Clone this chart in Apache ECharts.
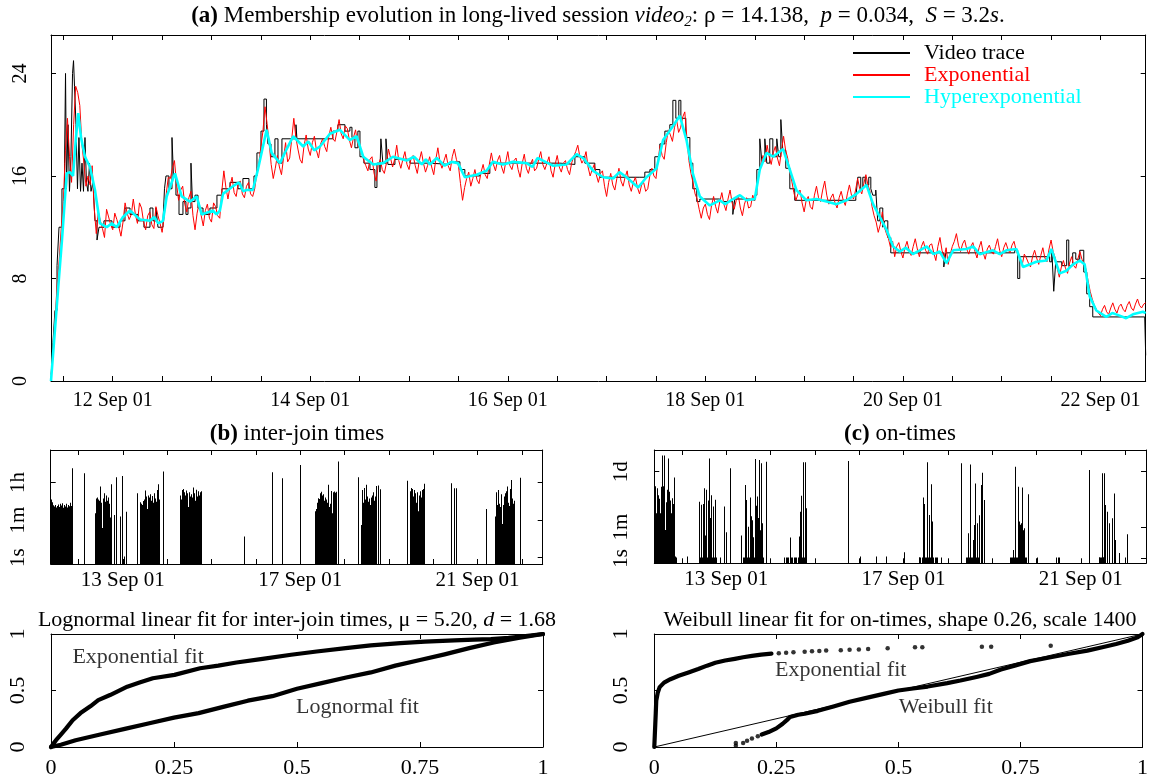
<!DOCTYPE html>
<html><head><meta charset="utf-8">
<script src="https://cdn.jsdelivr.net/npm/echarts@6/dist/echarts.min.js"></script>
<style>html,body{margin:0;padding:0;background:#fff;}#c{width:1151px;height:781px;}</style>
</head><body><div id="c"></div>
<script>
const FONT = 'Liberation Serif';
// ---------------- (a) membership evolution ----------------
const mainTickDays = [11.5,12,12.5,13,13.5,14,14.5,15,15.5,16,16.5,17,17.5,18,18.5,19,19.5,20,20.5,21,21.5,22];
const mainLabelDays = [12,14,16,18,20,22];
const mainYTicks = [0,8,16,24];
const videoTrace = [[11.375,0],[11.395,3],[11.415,5.5],[11.436,9],[11.456,12],[11.486,15],[11.512,17],[11.522,24],[11.532,15],[11.547,20],[11.562,14.8],[11.577,17.5],[11.593,24],[11.603,25],[11.613,23],[11.628,20],[11.643,15],[11.658,19],[11.674,14.8],[11.689,17],[11.704,14.8],[11.719,19],[11.734,15.5],[11.749,14.8],[11.765,17],[11.780,14.8],[11.800,15.5],[11.820,12.5],[11.841,11],[11.861,12],[11.911,12.5],[11.992,12],[12.073,12.5],[12.124,13.5],[12.175,13],[12.256,12.5],[12.316,12],[12.377,13.5],[12.407,12.5],[12.438,13.5],[12.458,12],[12.509,12.5],[12.524,15],[12.539,16],[12.569,15],[12.600,19],[12.615,16],[12.640,14.5],[12.671,13],[12.711,14],[12.741,13],[12.762,13.5],[12.792,17],[12.807,14],[12.833,14.5],[12.863,13.5],[12.914,13],[12.984,13.5],[13.055,14.5],[13.106,15],[13.187,15.5],[13.268,15],[13.318,15.8],[13.379,15],[13.430,16],[13.460,17.8],[13.501,19.5],[13.531,22],[13.556,20],[13.571,18.5],[13.602,17.5],[13.642,18.9],[13.673,17],[13.713,18.9],[13.855,20],[13.865,18.9],[14.229,19.5],[14.280,20],[14.351,19.5],[14.401,19.8],[14.422,19],[14.452,18.2],[14.482,19.5],[14.503,17.5],[14.543,17],[14.604,16.5],[14.654,15.1],[14.675,17],[14.705,16.3],[14.715,18.9],[14.735,17],[14.766,18.9],[14.786,16.9],[14.857,17.3],[15.009,17],[15.211,16.9],[15.414,17.1],[15.515,16.5],[15.565,16],[15.717,16.2],[15.818,17],[16.122,17],[16.527,16.9],[16.679,17.5],[16.780,17],[16.881,16.5],[16.932,15.9],[17.337,15.9],[17.387,16.3],[17.438,16.5],[17.488,17.5],[17.539,18.5],[17.590,19.5],[17.640,20],[17.671,21.9],[17.701,20.5],[17.731,21.9],[17.752,20.5],[17.802,19],[17.843,17],[17.873,15],[17.913,14],[17.944,14.2],[18.146,14],[18.278,13],[18.298,14.2],[18.450,14.1],[18.500,14.5],[18.521,16.5],[18.551,18.9],[18.571,17.2],[18.602,18.9],[18.622,17],[18.652,18.9],[18.683,17.5],[18.723,18.9],[18.743,17.5],[18.764,20.4],[18.784,18],[18.814,16.6],[18.855,15],[18.905,14.1],[19.523,14.3],[19.543,15.9],[19.573,15],[19.594,15.9],[19.624,15.3],[19.654,15.9],[19.675,15],[19.695,14.5],[19.725,14.9],[19.745,12.5],[19.766,13.5],[19.796,12],[19.816,12.5],[19.847,11.2],[19.877,10],[20.414,8.9],[20.434,10],[21.132,10.2],[21.162,8],[21.183,9.7],[21.486,9.3],[21.507,10.3],[21.527,7.0],[21.547,9.3],[21.608,9],[21.658,11],[21.679,9],[21.719,10],[21.750,9.5],[21.790,10.2],[21.831,8.5],[21.861,6.8],[21.891,5.8],[21.922,5],[22.448,5],[22.458,2]];
const expStartDay = 11.375;      // samples every 30 minutes
const expSamplesPerDay = 48;
const expValues = [
0.5,2.5,5,7.5,9.5,12,14,18,20.5,17.5,15.5,20,23,22.5,21.5,18.5,17,15.2,16,15.3,
16.8,13.5,11.5,13.2,12.5,11.9,11.2,13.4,12.8,12.2,11.8,13.1,12.6,12.0,11.3,12.4,13.9,13.1,12.6,13.0,
14.2,13.0,12.3,13.9,13.5,12.4,11.8,12.9,13.2,12.2,11.9,13.6,12.9,12.3,11.6,12.8,14.6,15.9,15.8,16.6,
17.2,15.4,14.1,14.9,15.2,13.8,13.2,14.3,14.8,12.9,11.8,13.1,13.9,12.9,12.1,13.3,13.8,12.7,12.4,13.9,
13.6,12.9,12.7,14.8,16.4,15.1,14.2,15.2,15.9,14.7,14.4,15.5,15.6,14.6,14.3,15.2,15.5,14.6,14.4,15.0,
16.2,17.0,18.3,19.5,21.4,20.1,18.6,16.9,15.8,16.6,17.6,16.7,16.1,17.4,18.6,17.1,17.4,18.9,20.5,19.0,
18.1,17.3,17,18.4,19.2,18.1,17.6,18.6,19.1,18.0,17.4,18.5,18.9,18.3,17.9,19.1,19.8,18.9,18.7,19.5,
20.4,19.3,18.9,19.9,19.7,18.8,18.2,19.0,19.6,18.5,18.1,17.8,17.2,16.8,16.4,17.3,17.5,16.2,15.6,16.8,
17.3,16.5,16.2,17.0,18.1,17.4,16.7,17.3,18.4,17.2,16.6,17.3,17.9,16.9,16.5,17.4,17.6,16.8,16.2,17.2,
17.9,17.0,16.3,16.8,17.5,16.7,16.1,17.3,18.2,17.1,16.6,17.2,17.7,16.8,16.4,17.5,18.1,17.3,16.8,15.4,
14.1,15.1,15.8,16.3,15.2,15.8,16.5,15.7,15.4,16.3,16.9,16.1,15.8,16.9,17.8,16.9,16.4,17.2,17.6,16.7,
16.2,17.1,17.9,16.8,16.5,17.2,17.4,16.5,15.9,17.0,17.7,16.6,16.2,16.9,17.3,16.4,16.6,17.3,17.9,16.9,
16.5,17.0,17.5,16.4,15.9,16.9,17.6,16.7,16.3,17.0,17.2,16.5,16.1,17.0,17.5,17.9,18.4,17.5,17,17.3,
17.9,16.7,16,16.5,16.9,16.1,15.5,16.2,16.4,15.2,14.4,15.5,16.2,15.3,14.9,15.8,16.6,15.6,15.2,15.9,
16.4,15.3,14.8,15.5,15.9,15.1,14.6,15.3,15.5,14.8,15,16.0,16.6,16.0,15.8,17.2,18.4,17.6,17.3,18.6,
19.6,19.2,18.7,19.8,20.4,19.4,19.8,20.6,21,19.0,17.2,16.2,15.5,14.6,14.2,13.4,12.7,13.5,13.8,13.0,
12.6,13.7,14.4,13.6,13.1,14.0,14.7,13.8,13.3,14.2,14.9,13.9,13.4,14.1,14.5,13.5,12.9,13.8,14.3,13.5,
13.6,14.5,14.1,15.0,16.1,16.9,17.6,17.1,18.4,17.5,16.9,17.8,18.3,17.4,16.8,18.0,19.1,18.0,17.4,16.3,
15.6,14.7,14.1,14.6,14.9,13.9,13.2,14.1,14.4,13.6,13.4,14.5,15.2,14.3,14,14.9,15.6,14.5,13.8,14.3,
14.6,13.9,13.5,14.3,14.8,14.1,13.7,14.6,15.3,14.5,14.2,14.9,15.8,15.0,14.6,15.4,16.1,15.3,14.8,13.6,
12.9,12.4,11.6,12.2,13.2,12.0,11.5,11.1,10.4,10.9,9.7,10.5,10.8,10.1,9.6,10.4,10.9,10.2,9.8,10.5,
11.1,10.3,9.7,10.5,10.9,10.2,9.9,10.6,10.7,10.0,9.4,10.5,11.2,10.2,9.6,10.4,9.1,9.9,10.5,10.9,
11.5,10.6,10.1,10.7,11,10.3,9.9,10.5,10.8,10.1,9.6,10.4,10.9,10.0,9.5,10.3,10.6,10.1,9.9,10.5,
11.1,10.2,9.7,10.4,10.8,10.3,10,10.6,10.9,10.2,9.8,9.5,9.1,9.9,9.6,9.2,8.9,9.7,10.2,9.6,
9.1,9.8,10.4,9.6,9.3,10.3,11,10.1,9.6,8.8,8.1,8.9,9.4,8.8,8.4,9.2,9.7,9.0,8.8,9.5,
10.1,9.5,9.2,8.7,7.8,7.0,6.4,5.9,5.6,5.3,5.1,5.6,5.9,5.4,5.2,5.7,6.1,5.6,5.3,5.8,
6,5.6,5.4,5.9,6.2,5.7,5.5,6.0,6.4,5.9,5.7,6.0,6.1];
const hyperExp = [[11.375,0],[11.445,7],[11.486,11],[11.534,16.2],[11.567,16.3],[11.598,16.0],[11.628,19],[11.651,20.9],[11.679,19],[11.719,17.5],[11.770,16.7],[11.820,14.9],[11.871,12.3],[11.939,12],[11.99,12.3],[12.040,12],[12.104,12.8],[12.175,13.3],[12.276,12.6],[12.377,12.5],[12.42,12.8],[12.46,12.3],[12.509,12.5],[12.546,14.4],[12.630,16.2],[12.698,14.4],[12.782,14],[12.850,14.4],[12.900,13],[13.015,13.3],[13.05,13.0],[13.085,13.3],[13.116,14.6],[13.217,15.2],[13.28,15.5],[13.32,14.8],[13.356,14.9],[13.419,14.9],[13.470,16.5],[13.558,19.6],[13.609,17.8],[13.693,17],[13.761,18.1],[13.827,19.1],[13.929,18.3],[13.98,18.7],[14.04,18.0],[14.098,18.3],[14.199,19.3],[14.300,19.6],[14.401,18.8],[14.469,19.1],[14.536,17.5],[14.637,16.9],[14.738,17],[14.837,17.5],[14.975,17.2],[15.05,17.5],[15.13,16.9],[15.17,17.3],[15.211,16.9],[15.28,17.4],[15.36,16.8],[15.431,17.1],[15.495,17],[15.565,15.9],[15.684,16.1],[15.785,16.4],[15.849,17.1],[15.950,16.9],[16.051,17.1],[16.190,17],[16.25,16.7],[16.30,17.4],[16.355,17.2],[16.456,16.8],[16.595,16.9],[16.696,17.7],[16.763,17.4],[16.864,16.4],[16.965,15.9],[17.066,15.8],[17.13,16.3],[17.202,15.9],[17.319,15.1],[17.404,15.9],[17.506,16.6],[17.572,18.8],[17.673,19.9],[17.741,20.7],[17.809,18.8],[17.876,16.1],[17.944,14.4],[18.045,13.7],[18.146,14.1],[18.2,13.8],[18.281,14.2],[18.35,14.5],[18.416,14.1],[18.500,14.2],[18.551,16.5],[18.619,17.8],[18.686,17.5],[18.787,18.1],[18.855,16.5],[18.922,14.9],[19.024,14.1],[19.125,14.2],[19.226,14],[19.327,13.8],[19.429,14.1],[19.530,14.6],[19.631,15.3],[19.698,13.8],[19.766,12.8],[19.834,11.8],[19.901,10.5],[19.968,10.1],[20.03,10.4],[20.1,9.9],[20.171,10.2],[20.24,10.5],[20.31,9.9],[20.373,10.1],[20.441,9.2],[20.508,10.2],[20.643,10.3],[20.71,10.5],[20.778,9.9],[20.912,10.2],[20.98,9.9],[21.048,10.2],[21.149,10.3],[21.216,8.9],[21.352,9.3],[21.453,9.4],[21.503,10.3],[21.587,8.4],[21.655,8.6],[21.722,9.1],[21.790,9.4],[21.840,9.1],[21.891,6.6],[21.958,5.5],[22.059,5.0],[22.12,5.3],[22.194,5.1],[22.26,4.9],[22.329,5.2],[22.430,5.4],[22.458,5.3]];

// ---------------- (b) inter-join times, (c) on-times  (log10 seconds) ----------------
const subTickDays = [12,13,14,15,16,17,18,19,20,21,22];
const subLabelDays = [13,17,21];
const ijTickLog = [0,1.778,3.556];
const ijTickText = ['1s','1m','1h'];
const onTickLog = [0,1.778,4.937];
const onTickText = ['1s','1m','1d'];
const interJoin = [
[11.375,2.83],[11.398,2.75],[11.420,2.62],[11.443,2.48],[11.465,2.42],[11.488,2.5],[11.511,2.38],[11.533,2.45],[11.556,2.52],[11.578,2.4],[11.601,2.55],[11.624,2.47],[11.646,2.58],[11.669,2.36],[11.691,2.5],[11.714,2.42],[11.737,2.55],[11.759,2.38],[11.782,2.49],[11.804,2.44],[11.827,2.6],[11.849,2.45],
[11.863,4.24],[12.127,4.0],
[12.375,2.1],[12.398,2.8],[12.420,2.85],[12.443,2.75],[12.465,2.7],[12.488,3.37],[12.511,2.6],[12.533,1.4],[12.556,2.8],[12.578,3.05],[12.601,2.65],[12.624,2.95],[12.646,2.7],[12.669,2.85],[12.691,2.55],[12.714,1.9],[12.737,3.48],
[12.811,2.02],[12.864,3.81],[12.954,1.95],[12.999,3.87],[13.037,0.05],[13.082,2.18],[13.331,3.05],
[13.391,2.62],[13.414,2.55],[13.436,2.5],[13.459,2.68],[13.481,2.75],[13.504,3.18],[13.527,2.9],[13.549,2.3],[13.572,2.95],[13.594,2.85],[13.617,3.0],[13.640,2.7],[13.662,2.92],[13.685,2.6],[13.707,3.05],[13.730,2.8],[13.753,2.65],[13.775,3.2],[13.798,3.48],[13.820,2.75],
[13.917,4.08],
[14.294,2.95],[14.317,2.75],[14.339,3.2],[14.362,3.25],[14.384,3.1],[14.407,2.95],[14.430,3.18],[14.452,3.05],[14.475,2.4],[14.497,3.1],[14.520,2.9],[14.543,3.0],[14.565,2.85],[14.588,3.32],[14.610,3.05],[14.633,2.7],[14.656,3.22],[14.678,2.9],[14.701,3.15],[14.723,2.95],[14.746,3.1],[14.769,3.15],
[15.746,1.0],[16.386,4.05],[16.611,3.76],[17.018,4.39],
[17.341,2.2],[17.364,2.3],[17.386,2.6],[17.409,2.82],[17.431,2.78],[17.454,3.05],[17.477,3.12],[17.499,2.95],[17.522,3.0],[17.544,2.7],[17.567,2.85],[17.590,2.75],[17.612,2.6],[17.635,3.45],[17.657,2.4],[17.680,2.55],[17.703,3.16],[17.725,2.1],[17.748,3.1],[17.770,3.13],[17.793,3.08],[17.816,3.12],
[17.876,4.55],[18.319,3.81],
[18.394,1.55],[18.417,3.2],[18.439,2.6],[18.462,3.3],[18.484,2.75],[18.507,3.45],[18.530,2.9],[18.552,2.65],[18.575,2.8],[18.597,2.5],[18.620,2.85],[18.643,2.95],[18.665,3.1],[18.688,2.7],[18.710,2.9],[18.733,3.4],[18.756,2.2],[18.778,3.42],[18.801,3.24],
[19.41,3.64],
[19.485,3.15],[19.508,3.3],[19.530,3.25],[19.553,2.9],[19.575,3.2],[19.598,3.05],[19.621,2.6],[19.643,3.1],[19.666,2.2],[19.688,2.95],[19.711,3.15],[19.734,2.85],[19.756,3.2],[19.779,3.25],[19.801,3.5],
[20.411,3.52],[20.486,3.29],[20.524,3.29],[21.194,2.31],
[21.404,1.95],[21.427,3.1],[21.449,2.5],[21.472,3.2],[21.494,2.55],[21.517,2.4],[21.540,3.0],[21.562,1.6],[21.585,2.5],[21.607,2.9],[21.630,3.05],[21.653,3.15],[21.675,3.37],[21.698,2.6],[21.720,2.45],[21.743,3.25],[21.766,3.68],[21.788,2.8],[21.811,2.55],[21.833,2.7],
[21.968,3.79]];
const onTimes = [
[11.384,4.33],[11.407,4.1],[11.429,2.57],[11.452,3.99],[11.474,3.6],[11.497,3.4],[11.520,2.57],[11.542,4.08],[11.565,5.85],[11.587,4.1],[11.610,5.85],[11.633,1.62],[11.655,3.2],[11.678,3.9],[11.700,5.69],[11.723,3.8],[11.746,3.3],[11.768,2.57],[11.791,3.42],[11.813,3.1],[11.836,4.6],[11.859,0.1],[11.881,0.05],
[12.135,0.1],
[12.398,3.23],[12.413,0.05],[12.436,0.05],[12.451,3.05],[12.466,0.05],[12.488,3.1],[12.511,3.99],[12.526,0.05],[12.541,1.3],[12.563,3.9],[12.586,0.05],[12.601,3.3],[12.624,5.69],[12.639,0.05],[12.654,2.3],[12.676,3.6],[12.691,0.05],[12.706,1.5],[12.721,2.95],[12.736,0.05],[12.751,0.05],[12.766,3.34],[12.781,0.05],
[12.864,0.05],[12.962,2.95],[13.007,1.49],[13.104,5.13],
[13.352,1.3],[13.39,0.05],[13.41,0.05],[13.427,4.18],[13.44,0.05],[13.465,3.33],[13.48,0.05],[13.503,1.8],[13.52,0.05],[13.540,3.46],[13.563,2.4],[13.58,0.05],[13.593,2.17],[13.61,0.05],[13.623,1.2],[13.64,0.05],[13.653,5.66],[13.67,0.05],[13.683,3.0],[13.69,0.05],[13.706,3.52],[13.728,2.3],[13.74,0.05],[13.751,5.6],[13.77,0.05],[13.781,1.6],[13.79,0.05],[13.803,5.41],[13.815,0.05],[13.826,2.0],[13.84,0.05],[13.916,5.5],
[14.32,0.05],[14.35,0.05],[14.38,0.05],[14.41,0.05],[14.44,0.05],[14.457,1.19],[14.47,0.05],[14.50,0.05],[14.53,0.05],[14.56,0.05],[14.59,0.05],[14.62,0.05],[14.645,1.25],[14.66,0.05],[14.682,2.66],[14.705,3.57],[14.72,0.05],[14.742,5.47],[14.76,0.05],[14.780,5.47],[14.79,0.05],[14.802,2.85],[14.815,0.05],
[15.757,5.54],[16.02,0.1],[16.395,0.1],[16.621,0.1],[17.019,0.35],
[17.35,0.05],[17.37,0.05],[17.39,0.05],[17.42,0.05],[17.447,3.46],[17.47,3.1],[17.49,0.05],[17.51,0.05],[17.545,5.47],[17.56,0.05],[17.582,2.47],[17.60,0.05],[17.62,4.22],[17.635,0.05],[17.65,2.1],[17.665,0.05],[17.725,0.05],[17.745,0.05],[17.77,0.05],[17.86,0.05],
[18.311,5.41],[18.42,0.05],[18.44,0.05],[18.461,1.43],[18.48,0.05],[18.50,0.05],[18.514,5.35],[18.535,0.05],[18.555,0.05],[18.574,1.05],[18.59,0.05],[18.6,1.9],[18.627,4.27],[18.645,0.05],[18.664,2.0],[18.68,0.05],[18.702,2.45],[18.72,0.05],[18.747,4.18],[18.777,4.88],[18.822,3.33],
[19.42,0.05],[19.44,0.05],[19.46,0.05],[19.476,0.48],[19.50,0.05],[19.528,5.22],[19.55,0.05],[19.57,0.05],[19.588,4.08],[19.60,0.05],[19.618,2.1],[19.63,0.05],[19.641,1.91],[19.664,2.0],[19.686,4.03],[19.70,0.05],[19.716,1.6],[19.739,1.72],[19.75,0.05],[19.77,0.05],[19.814,3.65],
[20.024,0.05],[20.452,0.05],[20.505,0.05],[20.527,0.05],
[21.204,5.03],[21.41,0.05],[21.43,0.05],[21.45,0.05],[21.47,0.05],[21.482,4.84],[21.50,0.05],[21.52,0.05],[21.542,4.84],[21.557,3.04],[21.602,2.66],[21.639,2.0],[21.714,2.28],[21.752,3.7],[21.79,1.05],[21.88,0.3],[22.008,0.05],[22.053,1.37]];

// ---------------- bottom linear-fit plots ----------------
const fitTicksX = [0,0.25,0.5,0.75,1];
const fitTicksY = [0,0.5,1];
const lnExpFit = [[0,0],[0.005,0.03],[0.012,0.07],[0.02,0.11],[0.03,0.16],[0.044,0.237],[0.06,0.3],[0.08,0.36],[0.096,0.415],[0.12,0.46],[0.155,0.534],[0.18,0.57],[0.207,0.608],[0.251,0.638],[0.303,0.697],[0.34,0.72],[0.377,0.748],[0.43,0.78],[0.488,0.816],[0.54,0.845],[0.599,0.875],[0.65,0.9],[0.71,0.92],[0.76,0.933],[0.82,0.944],[0.86,0.95],[0.894,0.955],[0.93,0.965],[0.96,0.98],[1,1]];
const lnLognormalFit = [[0,0],[0.02,0.02],[0.05,0.06],[0.1,0.11],[0.15,0.16],[0.2,0.21],[0.25,0.26],[0.3,0.3],[0.35,0.355],[0.4,0.41],[0.45,0.45],[0.5,0.515],[0.55,0.565],[0.6,0.615],[0.65,0.66],[0.7,0.72],[0.75,0.77],[0.8,0.82],[0.85,0.875],[0.9,0.925],[0.95,0.965],[1,1]];
const wbExpFit = [[0,0],[0.001,0.1],[0.002,0.2],[0.003,0.3],[0.004,0.41],[0.007,0.48],[0.011,0.53],[0.02,0.57],[0.033,0.6],[0.05,0.63],[0.07,0.66],[0.09,0.69],[0.108,0.72],[0.125,0.745],[0.145,0.765],[0.165,0.78],[0.182,0.794],[0.2,0.806],[0.219,0.818],[0.24,0.826]];
const wbExpDots = [[0.255,0.829],[0.27,0.834],[0.285,0.838],[0.308,0.844],[0.323,0.847],[0.338,0.85],[0.352,0.853],[0.382,0.857],[0.4,0.86],[0.419,0.863],[0.438,0.868],[0.478,0.874],[0.534,0.882],[0.549,0.882],[0.671,0.888],[0.69,0.888],[0.812,0.897]];
const wbWeibullDots = [[0.167,0.01],[0.167,0.035],[0.182,0.035],[0.19,0.055],[0.2,0.075],[0.212,0.095]];
const wbWeibullFit = [[0.22,0.11],[0.234,0.132],[0.25,0.165],[0.263,0.206],[0.272,0.24],[0.278,0.265],[0.295,0.285],[0.308,0.294],[0.335,0.32],[0.367,0.359],[0.4,0.4],[0.441,0.441],[0.47,0.47],[0.5,0.5],[0.53,0.518],[0.56,0.535],[0.6,0.565],[0.627,0.588],[0.66,0.62],[0.686,0.647],[0.71,0.685],[0.738,0.72],[0.77,0.76],[0.812,0.794],[0.85,0.825],[0.887,0.853],[0.92,0.885],[0.946,0.912],[0.97,0.94],[0.99,0.97],[1,1]];
const wbDiagonal = [[0,0],[1,1]];

// ---------------- chart ----------------
const chart = echarts.init(document.getElementById('c'));
const xAxis = [], yAxis = [];
const lineStyleBlack = {color:'#000', width:1};
function makeAxes(gi, o) {
  const common = (pos, ticks, showLab, labs, fmt, margin, rot, min, max) => ({
    gridIndex: gi, type: 'value', position: pos, min: min, max: max,
    axisLine: {show: true, onZero: false, lineStyle: lineStyleBlack},
    axisTick: {show: true, inside: true, length: 5, customValues: ticks, lineStyle: lineStyleBlack},
    axisLabel: {show: showLab, customValues: labs, formatter: fmt, margin: margin, rotate: rot,
      color: '#000', fontFamily: FONT, fontSize: o.fs, hideOverlap: false},
    splitLine: {show: false}
  });
  xAxis.push(common('bottom', o.xt, true, o.xl, o.xf, o.xm, 0, o.xmin, o.xmax));
  xAxis.push(common('top', o.xt, false, o.xl, o.xf, o.xm, 0, o.xmin, o.xmax));
  yAxis.push(common('left', o.yt, true, o.yl, o.yf, o.ym, 90, o.ymin, o.ymax));
  yAxis.push(common('right', o.yt, false, o.yl, o.yf, o.ym, 90, o.ymin, o.ymax));
}
const dayFmt = v => Math.round(v) + ' Sep 01';
const lookup = (ticks, texts) => v => { for (let i = 0; i < ticks.length; i++) if (Math.abs(ticks[i]-v) < 1e-6) return texts[i]; return ''; };
makeAxes(0, {fs:20, xmin:11.375, xmax:22.458, xt:mainTickDays, xl:mainLabelDays, xf:dayFmt, xm:10,
  ymin:0, ymax:27, yt:mainYTicks, yl:mainYTicks, yf:v=>String(v), ym:20});
makeAxes(1, {fs:21, xmin:11.375, xmax:22.47, xt:subTickDays, xl:subLabelDays, xf:dayFmt, xm:6,
  ymin:-0.3, ymax:5.1, yt:ijTickLog, yl:ijTickLog, yf:lookup(ijTickLog, ijTickText), ym:22});
makeAxes(2, {fs:21, xmin:11.375, xmax:22.47, xt:subTickDays, xl:subLabelDays, xf:dayFmt, xm:6,
  ymin:-0.28, ymax:6.17, yt:onTickLog, yl:onTickLog, yf:lookup(onTickLog, onTickText), ym:22});
makeAxes(3, {fs:22, xmin:0, xmax:1, xt:fitTicksX, xl:fitTicksX, xf:v=>String(v), xm:10,
  ymin:0, ymax:1, yt:fitTicksY, yl:fitTicksY, yf:v=>String(v), ym:22});
makeAxes(4, {fs:22, xmin:0, xmax:1, xt:fitTicksX, xl:fitTicksX, xf:v=>String(v), xm:10,
  ymin:0, ymax:1, yt:fitTicksY, yl:fitTicksY, yf:v=>String(v), ym:22});

function vbar(yMin) {
  return function (params, api) {
    const x = api.value(0), y = api.value(1);
    const p1 = api.coord([x, y]);
    const p0 = api.coord([x, yMin]);
    return {type: 'rect', shape: {x: Math.floor(p1[0]), y: p1[1], width: 1, height: p0[1]-p1[1]}, style: {fill: '#000'}};
  };
}
const dotLine = (gi, data) => ({type:'line', xAxisIndex:2*gi, yAxisIndex:2*gi, data:data, showSymbol:false, clip:false,
  lineStyle:{color:'#000', width:4.2, cap:'round', join:'round'}, silent:true});
const dots = (gi, data) => ({type:'scatter', xAxisIndex:2*gi, yAxisIndex:2*gi, data:data, symbolSize:4.5, clip:false,
  itemStyle:{color:'#000'}, silent:true});
const textMark = (gi, x, y, txt) => ({type:'scatter', xAxisIndex:2*gi, yAxisIndex:2*gi, data:[{value:[x,y], name:txt}],
  symbolSize:1, itemStyle:{color:'rgba(0,0,0,0)'}, silent:true,
  label:{show:true, position:'inside', formatter:'{b}', color:'#000', fontFamily:FONT, fontSize:22}});

const series = [
  {name:'Video trace', type:'line', step:'end', xAxisIndex:0, yAxisIndex:0, data:videoTrace, showSymbol:false,
    color:'#000', lineStyle:{color:'#000', width:1}, silent:true},
  {name:'Exponential', type:'line', xAxisIndex:0, yAxisIndex:0, data:expValues.map((v,i)=>[expStartDay+i/expSamplesPerDay, v]), showSymbol:false,
    color:'#ff0000', lineStyle:{color:'#ff0000', width:1}, silent:true},
  {name:'Hyperexponential', type:'line', xAxisIndex:0, yAxisIndex:0, data:hyperExp, showSymbol:false,
    color:'#00ffff', lineStyle:{color:'#00ffff', width:2.6}, silent:true},
  {type:'custom', xAxisIndex:2, yAxisIndex:2, data:interJoin, renderItem:vbar(-0.3), encode:{x:0,y:1}, silent:true},
  {type:'custom', xAxisIndex:4, yAxisIndex:4, data:onTimes, renderItem:vbar(-0.28), encode:{x:0,y:1}, silent:true},
  dotLine(3, lnExpFit), dotLine(3, lnLognormalFit),
  textMark(3, 0.177, 0.795, 'Exponential fit'), textMark(3, 0.623, 0.35, 'Lognormal fit'),
  {type:'line', xAxisIndex:8, yAxisIndex:8, data:wbDiagonal, showSymbol:false, lineStyle:{color:'#000', width:1}, silent:true},
  dotLine(4, wbExpFit), dots(4, wbExpDots), dotLine(4, wbWeibullFit), dots(4, wbWeibullDots),
  textMark(4, 0.382, 0.676, 'Exponential fit'), textMark(4, 0.597, 0.35, 'Weibull fit')
];

function richSet(fs) {
  return {
    b:{fontFamily:FONT, fontSize:fs, fontWeight:'bold', lineHeight:fs+5},
    i:{fontFamily:FONT, fontSize:fs, fontStyle:'italic', lineHeight:fs+5},
    sub:{fontFamily:FONT, fontSize:Math.round(fs*0.65), fontStyle:'italic', lineHeight:Math.round(fs*0.65), verticalAlign:'bottom'}
  };
}
const titleText = (x, y, fs, text) => ({type:'text', x:x, y:y, silent:true, style:{
  text:text, fill:'#000', fontFamily:FONT, fontSize:fs, lineHeight:fs+5,
  align:'center', verticalAlign:'middle', textAlign:'center', textVerticalAlign:'middle', rich:richSet(fs)}});

chart.setOption({
  animation: false,
  backgroundColor: '#fff',
  grid: [
    {left:51, top:35, width:1094.7, height:346},
    {left:50.7, top:450, width:492, height:114},
    {left:654.3, top:450, width:491.7, height:113.3},
    {left:51, top:634, width:492, height:113},
    {left:654.3, top:634, width:491.7, height:113}
  ],
  xAxis: xAxis, yAxis: yAxis,
  legend: {orient:'vertical', left:853, top:42, padding:0, itemWidth:57, itemHeight:2, itemGap:0, icon:'rect', selectedMode:false,
    textStyle:{fontFamily:FONT, fontSize:22, padding:[0,0,0,9]},
    data:[{name:'Video trace', textStyle:{color:'#000'}}, {name:'Exponential', textStyle:{color:'#ff0000'}}, {name:'Hyperexponential', textStyle:{color:'#00ffff'}}]},
  graphic: [
    titleText(598, 16, 23, '{b|(a)} Membership evolution in long-lived session {i|video}{sub|2}: ρ = 14.138,  {i|p} = 0.034,  {i|S} = 3.2{i|s}.'),
    titleText(297, 434, 23, '{b|(b)} inter-join times'),
    titleText(900, 434, 23, '{b|(c)} on-times'),
    titleText(297, 620, 22, 'Lognormal linear fit for inter-join times, μ = 5.20, {i|d} = 1.68'),
    titleText(900, 620, 22, 'Weibull linear fit for on-times, shape 0.26, scale 1400')
  ],
  series: series
});
</script></body></html>
